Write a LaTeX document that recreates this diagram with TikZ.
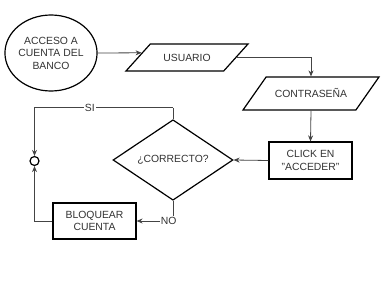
\documentclass[tikz,border=0pt]{standalone}
\usepackage{fontspec}
\setmainfont{Liberation Sans}
\usepackage{xcolor}
\usepackage{tikz}
\usetikzlibrary{arrows.meta,shapes.geometric,calc}
\definecolor{ink}{HTML}{333333}
\definecolor{wire}{HTML}{444444}
\tikzset{
  fstart/.style={ellipse,draw=black,line width=1.2pt,text=ink,align=center,inner sep=0pt,minimum width=87,minimum height=76},
  fdata/.style={trapezium,trapezium stretches body,draw=black,line width=1.2pt,text=ink,align=center,inner xsep=0pt,text height=7.5pt,text depth=0pt},
  fproc/.style={rectangle,draw=black,line width=1.2pt,text=ink,align=center,inner sep=0pt,minimum width=83,minimum height=37},
  fask/.style={diamond,draw=black,line width=1.2pt,text=ink,align=center,inner sep=0pt,minimum width=120,minimum height=70},
  fjoin/.style={circle,draw=black,line width=1.2pt,inner sep=0pt,minimum size=9},
  farr/.style={-{Stealth[length=6pt,width=5pt]},line width=0.8pt,draw=wire},
  fline/.style={line width=0.8pt,draw=wire},
  flab/.style={fill=white,text=ink,inner sep=1pt}
}
\begin{document}
\begin{tikzpicture}[x=1pt,y=-1pt,font=\fontsize{10.4}{12.5}\selectfont]
  \useasboundingbox[fill=white] (0,0) rectangle (391,281);
  % shapes
  \node[fstart] (start) at (51,53) {ACCESO A\\CUENTA DEL\\BANCO};
  \node[fdata,trapezium left angle=48,trapezium right angle=132,inner ysep=9.75pt,minimum width=122] (user) at (187,57.5) {USUARIO};
  \node[fdata,trapezium left angle=55,trapezium right angle=125,inner ysep=12.75pt,minimum width=136] (pass) at (311,93.5) {CONTRASEÑA};
  \node[fproc] (click) at (310.5,160.5) {CLICK EN\\"ACCEDER"};
  \node[fask] (check) at (173,160) {¿CORRECTO?};
  \node[fproc,minimum height=36] (lock) at (94.5,221) {BLOQUEAR\\CUENTA};
  \node[fjoin] (join) at (34.5,161) {};
  \coordinate (si) at (173,107.7);
  % connectors
  \draw[farr] (start.east) -- ($(user.bottom left corner)!0.667!(user.top left corner)$);
  \draw[farr] (user.east) -| (pass.north);
  \draw[farr] (pass.south) -- (click.north);
  \draw[farr] (click.west) -- (check.east);
  \draw[fline] (check.north) -- (si);
  \draw[farr] (si) -| node[flab,pos=0.3] {SI} (join.north);
  \draw[farr] (check.south) |- node[flab,pos=0.56] {NO} (lock.east);
  \draw[farr] (lock.west) -| (join.south);
\end{tikzpicture}
\end{document}
